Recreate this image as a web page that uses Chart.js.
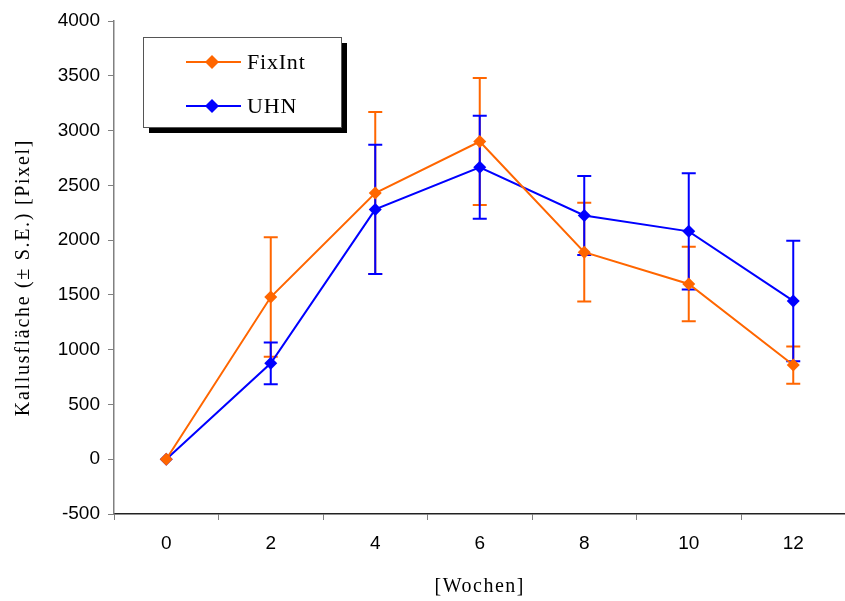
<!DOCTYPE html>
<html>
<head>
<meta charset="utf-8">
<script src="https://cdn.jsdelivr.net/npm/chart.js@4.4.1/dist/chart.umd.min.js"></script>
<style>
  html, body { margin: 0; padding: 0; background: #fff; overflow: hidden; }
  #wrap { position: relative; width: 852px; height: 601px; }
</style>
</head>
<body>
<div id="wrap"><canvas id="chart" width="852" height="601"></canvas></div>
<script>
const weeks = ['0', '2', '4', '6', '8', '10', '12'];
const fixInt = [0, 1480, 2430, 2900, 1890, 1600, 860];
const fixIntErr = [0, 545, 740, 580, 450, 340, 170];
const uhn = [0, 875, 2280, 2665, 2225, 2080, 1445];
const uhnErr = [0, 190, 590, 470, 360, 530, 550];
const yTicks = [-500, 0, 500, 1000, 1500, 2000, 2500, 3000, 3500, 4000];
const xTitle = '[Wochen]';
const yTitle = 'Kallusfläche (± S.E.) [Pixel]';

const ORANGE = '#ff6600';
const BLUE = '#0000ff';
const SERIF = '"Liberation Serif", "Times New Roman", serif';

// +/- S.E. whiskers, drawn under the lines
const errorBars = {
  id: 'errorBars',
  beforeDatasetsDraw(chart) {
    const ctx = chart.ctx;
    const x = chart.scales.x, y = chart.scales.y;
    chart.data.datasets.forEach(ds => {
      ctx.save();
      ctx.strokeStyle = ds.borderColor;
      ctx.lineWidth = 2;
      ds.data.forEach((v, i) => {
        const e = ds.errors[i];
        if (!e) return;
        const px = x.getPixelForValue(i);
        const top = y.getPixelForValue(v + e);
        const bot = y.getPixelForValue(v - e);
        ctx.beginPath();
        ctx.moveTo(px, top); ctx.lineTo(px, bot);
        ctx.moveTo(px - 7, top); ctx.lineTo(px + 7, top);
        ctx.moveTo(px - 7, bot); ctx.lineTo(px + 7, bot);
        ctx.stroke();
      });
      ctx.restore();
    });
  }
};

// axis titles, slightly letter-spaced
const axisTitles = {
  id: 'axisTitles',
  afterDraw(chart) {
    const ctx = chart.ctx;
    const a = chart.chartArea;
    ctx.save();
    ctx.fillStyle = '#000';
    ctx.font = '20px ' + SERIF;
    ctx.letterSpacing = '1.5px';
    ctx.textAlign = 'center';
    ctx.textBaseline = 'middle';
    ctx.fillText(xTitle, (a.left + a.right) / 2, 587);
    ctx.translate(24, (a.top + a.bottom) / 2 + 10);
    ctx.rotate(-Math.PI / 2);
    ctx.letterSpacing = '1.7px';
    ctx.fillText(yTitle, 0, 0);
    ctx.restore();
  }
};

// boxed legend with drop shadow in the upper left of the plot
const boxLegend = {
  id: 'boxLegend',
  afterDraw(chart) {
    const ctx = chart.ctx;
    const bx = 143, by = 37, bw = 198, bh = 90;
    ctx.save();
    ctx.fillStyle = '#000';
    ctx.fillRect(bx + 6, by + 6, bw, bh);
    ctx.fillStyle = '#fff';
    ctx.fillRect(bx, by, bw, bh);
    ctx.strokeStyle = '#555';
    ctx.lineWidth = 1;
    ctx.strokeRect(bx + 0.5, by + 0.5, bw, bh);
    chart.data.datasets.forEach((ds, i) => {
      const cy = by + 25 + i * 44;
      ctx.strokeStyle = ds.borderColor;
      ctx.lineWidth = 2;
      ctx.beginPath();
      ctx.moveTo(bx + 43, cy); ctx.lineTo(bx + 98, cy);
      ctx.stroke();
      ctx.fillStyle = ds.borderColor;
      ctx.beginPath();
      ctx.moveTo(bx + 69, cy - 7); ctx.lineTo(bx + 76, cy);
      ctx.lineTo(bx + 69, cy + 7); ctx.lineTo(bx + 62, cy);
      ctx.closePath(); ctx.fill();
      ctx.fillStyle = '#000';
      ctx.font = '22px ' + SERIF;
      ctx.letterSpacing = '0.8px';
      ctx.textBaseline = 'middle';
      ctx.fillText(ds.label, bx + 104, cy + 1);
    });
    ctx.restore();
  }
};

const tickFont = { family: '"Liberation Sans", Arial, sans-serif', size: 19 };

new Chart(document.getElementById('chart'), {
  type: 'line',
  data: {
    labels: weeks,
    datasets: [
      {
        label: 'FixInt', data: fixInt, errors: fixIntErr,
        borderColor: ORANGE, backgroundColor: ORANGE, borderWidth: 2,
        pointStyle: 'rectRot', pointRadius: 6.5, pointHoverRadius: 6.5,
        pointBorderWidth: 0, tension: 0
      },
      {
        label: 'UHN', data: uhn, errors: uhnErr,
        borderColor: BLUE, backgroundColor: BLUE, borderWidth: 2,
        pointStyle: 'rectRot', pointRadius: 6.5, pointHoverRadius: 6.5,
        pointBorderWidth: 0, tension: 0
      }
    ]
  },
  options: {
    responsive: false,
    animation: false,
    layout: { padding: { top: 21, right: 0, bottom: 0, left: 0 } },
    plugins: { legend: { display: false }, tooltip: { enabled: false } },
    scales: {
      x: {
        offset: true,
        grid: { offset: true, drawOnChartArea: false, color: '#808080', tickLength: 6 },
        border: { color: '#222', width: 1.5 },
        ticks: { color: '#000', font: tickFont, padding: 12, maxRotation: 0 },
        afterFit(scale) { scale.height = 87; }
      },
      y: {
        min: -500, max: 4000,
        afterBuildTicks(scale) { scale.ticks = yTicks.map(v => ({ value: v })); },
        grid: { drawOnChartArea: false, color: '#808080', tickLength: 6 },
        border: { color: '#808080', width: 1.5 },
        ticks: { color: '#000', font: tickFont, padding: 8, callback: v => String(v) },
        afterFit(scale) { scale.width = 114; }
      }
    }
  },
  plugins: [errorBars, axisTitles, boxLegend]
});
</script>
</body>
</html>
